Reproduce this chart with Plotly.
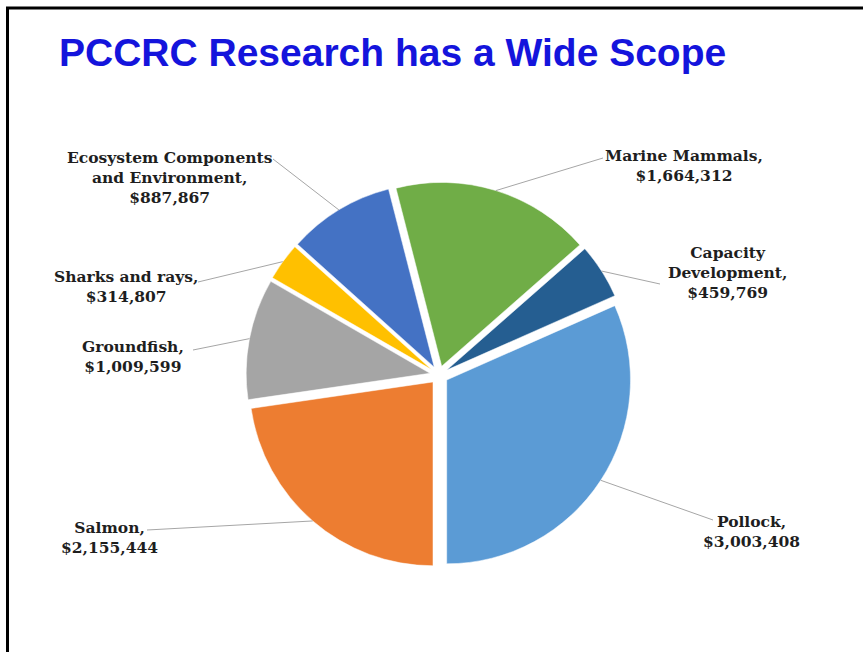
import math
import plotly.graph_objects as go

# ---- data ----
categories = ["Pollock", "Salmon", "Groundfish", "Sharks and rays",
              "Ecosystem Components and Environment", "Marine Mammals",
              "Capacity Development"]
values = [3003408, 2155444, 1009599, 314807, 887867, 1664312, 459769]
label_lines = [["Pollock,"], ["Salmon,"], ["Groundfish,"], ["Sharks and rays,"],
               ["Ecosystem Components", "and Environment,"], ["Marine Mammals,"],
               ["Capacity", "Development,"]]
colors = ["#5B9BD5", "#ED7D31", "#A5A5A5", "#FFC000", "#4472C4", "#70AD47", "#255E91"]
title_text = "PCCRC Research has a Wide Scope"

# ---- layout geometry (pixels) ----
W, H = 863, 652
PULL = 0.05
CX, CY, HALF = 439, 375, 193
label_pos = [(751, 531), (109, 537), (133, 357), (126, 286), (170, 177), (684, 166), (727, 272)]
leader_end = [(713, 520), (147, 530), (193, 350), (198, 282), (273, 159), (603, 158), (660, 284)]

def px(x):
    return x / W

def py(y):
    return 1 - y / H

total = sum(values)
rotation = 180 - 360 * values[0] / total  # first slice ends at 6 o'clock

fig = go.Figure(go.Pie(
    labels=categories, values=values, sort=False, direction="clockwise",
    rotation=rotation, pull=[PULL] * len(values),
    marker=dict(colors=colors, line=dict(color="white", width=0.5)),
    textinfo="none", hoverinfo="label+value", showlegend=False,
    domain=dict(x=[px(CX - HALF), px(CX + HALF)], y=[py(CY + HALF), py(CY - HALF)]),
))

r = HALF / (1 + PULL)
shapes = []
annotations = []
cum = 0
for i, v in enumerate(values):
    mid = math.radians(rotation + 360 * (cum + v / 2) / total)
    cum += v
    R = r * (1 + PULL)
    ex, ey = CX + math.sin(mid) * R, CY - math.cos(mid) * R
    lx, ly = leader_end[i]
    shapes.append(dict(type="line", xref="paper", yref="paper",
                       x0=px(ex), y0=py(ey), x1=px(lx), y1=py(ly),
                       line=dict(color="#A6A6A6", width=1)))
    text = "<br>".join(label_lines[i] + [f"${v:,}"])
    annotations.append(dict(text=f"<b>{text}</b>", x=px(label_pos[i][0]), y=py(label_pos[i][1]),
                            xref="paper", yref="paper", xanchor="center", yanchor="middle",
                            showarrow=False, align="center",
                            font=dict(family="DejaVu Serif", size=15.5, color="#1e1e1e")))

annotations.append(dict(text=f"<b>{title_text}</b>", x=px(57), y=py(53), xref="paper", yref="paper",
                        xanchor="left", yanchor="middle", showarrow=False,
                        font=dict(family="Liberation Sans", size=39, color="#1414DC")))

# slide border (top and left edges)
shapes.append(dict(type="line", xref="paper", yref="paper", x0=px(6), y0=py(8), x1=1, y1=py(8),
                   line=dict(color="black", width=3)))
shapes.append(dict(type="line", xref="paper", yref="paper", x0=px(7.5), y0=py(7), x1=px(7.5), y1=0,
                   line=dict(color="black", width=3)))

fig.update_layout(width=W, height=H, margin=dict(l=0, r=0, t=0, b=0),
                  paper_bgcolor="white", plot_bgcolor="white",
                  shapes=shapes, annotations=annotations)

fig.write_html("out.html")
